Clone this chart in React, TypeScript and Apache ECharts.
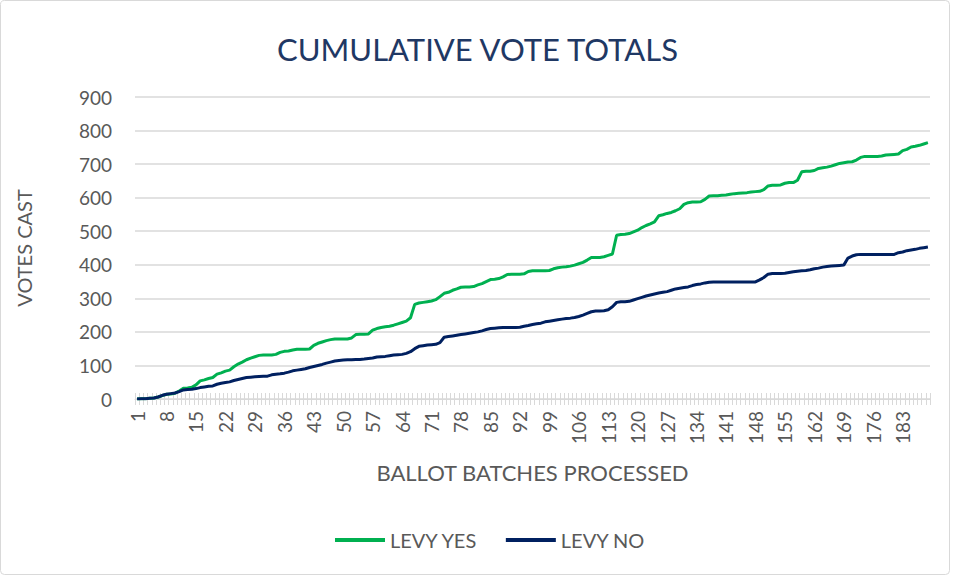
import React, { useEffect, useRef } from "react";
import * as echarts from "echarts";

const batches: string[] = Array.from({ length: 189 }, (_, i) => String(i + 1));

const levyYes: number[] = [
  0, 1, 1, 2, 3, 6, 10, 14, 15, 17,
  24, 32, 33, 35, 42, 54, 57, 61, 64, 74,
  78, 83, 86, 96, 104, 110, 117, 122, 126, 130,
  131, 131, 131, 133, 139, 142, 143, 146, 148, 148,
  148, 149, 160, 166, 170, 174, 177, 179, 179, 179,
  179, 182, 192, 193, 193, 194, 205, 210, 213, 215,
  217, 220, 224, 228, 232, 242, 282, 286, 288, 290,
  292, 296, 305, 315, 318, 324, 328, 333, 334, 334,
  335, 340, 344, 350, 356, 357, 359, 364, 371, 372,
  372, 372, 373, 380, 382, 382, 382, 382, 383, 388,
  391, 393, 394, 396, 399, 403, 407, 414, 422, 422,
  422, 424, 428, 432, 488, 490, 491, 493, 498, 503,
  511, 517, 522, 528, 546, 549, 553, 556, 561, 567,
  580, 585, 587, 587, 588, 595, 605, 606, 606, 607,
  608, 610, 612, 613, 614, 615, 617, 618, 619, 624,
  635, 637, 637, 638, 643, 645, 645, 652, 677, 679,
  679, 681, 687, 689, 691, 694, 698, 702, 704, 706,
  707, 712, 720, 723, 723, 723, 723, 724, 727, 728,
  729, 730, 740, 744, 751, 753, 756, 760, 764,
];

const levyNo: number[] = [
  0, 1, 1, 2, 3, 6, 11, 14, 16, 18,
  22, 27, 28, 29, 31, 34, 36, 38, 39, 44,
  47, 49, 51, 55, 58, 61, 64, 65, 66, 67,
  68, 68, 72, 74, 75, 77, 80, 84, 86, 88,
  90, 94, 97, 100, 103, 107, 110, 113, 115, 116,
  117, 117, 118, 118, 119, 121, 122, 125, 126, 127,
  129, 131, 132, 133, 136, 141, 150, 157, 159, 161,
  162, 163, 168, 184, 186, 188, 190, 192, 194, 196,
  198, 200, 203, 207, 210, 211, 212, 213, 213, 213,
  213, 214, 217, 219, 222, 224, 226, 230, 232, 234,
  236, 238, 240, 241, 243, 246, 250, 255, 260, 262,
  262, 263, 266, 275, 288, 290, 290, 291, 295, 299,
  303, 307, 310, 313, 316, 318, 320, 324, 328, 330,
  332, 334, 338, 341, 343, 346, 348, 349, 349, 349,
  349, 349, 349, 349, 349, 349, 349, 349, 355, 362,
  372, 374, 374, 374, 375, 377, 379, 381, 382, 383,
  385, 388, 390, 393, 395, 396, 397, 398, 399, 420,
  426, 430, 431, 431, 431, 431, 431, 431, 431, 431,
  431, 436, 438, 442, 444, 446, 449, 451, 453,
];

const FONT = "Lato, 'Open Sans', sans-serif";
const GRAY = "#595959";

export default function App() {
  const ref = useRef<HTMLDivElement>(null);
  useEffect(() => {
    if (!ref.current) return;
    const chart = echarts.init(ref.current, null, { renderer: "svg" });
    chart.setOption({
      animation: false,
      backgroundColor: "#ffffff",
      textStyle: { fontFamily: FONT },
      title: {
        text: "CUMULATIVE VOTE TOTALS",
        left: "center",
        top: 28,
        textStyle: { color: "#1F3864", fontSize: 31, fontWeight: "normal", fontFamily: FONT },
      },
      graphic: [
        {
          type: "rect",
          shape: { x: 0.5, y: 0.5, width: 949, height: 574, r: 4 },
          style: { fill: "none", stroke: "#D9D9D9", lineWidth: 1 },
          silent: true,
        },
      ],
      legend: {
        bottom: 22,
        left: 330,
        itemWidth: 50,
        itemHeight: 4,
        itemGap: 28,
        icon: "rect",
        textStyle: { color: GRAY, fontSize: 20, fontFamily: FONT },
        data: ["LEVY YES", "LEVY NO"],
      },
      grid: { left: 135, right: 25, top: 97, bottom: 178, containLabel: false },
      xAxis: [
        {
          type: "category",
          data: batches,
          boundaryGap: true,
          name: "BALLOT BATCHES PROCESSED",
          nameLocation: "middle",
          nameGap: 62,
          nameTextStyle: { color: GRAY, fontSize: 22, fontFamily: FONT },
          axisLine: { lineStyle: { color: "#D9D9D9", width: 1 } },
          axisTick: { show: true, interval: 0, length: 6, lineStyle: { color: "#D9D9D9" } },
          axisLabel: { interval: 6, rotate: 90, color: GRAY, fontSize: 19, margin: 12, fontFamily: FONT },
        },
        {
          type: "category",
          data: batches,
          position: "bottom",
          boundaryGap: true,
          axisLine: { show: false },
          axisTick: { show: true, inside: true, interval: 0, length: 6, lineStyle: { color: "#D9D9D9" } },
          axisLabel: { show: false },
        },
      ],
      yAxis: {
        type: "value",
        min: 0,
        max: 900,
        interval: 100,
        name: "VOTES CAST",
        nameLocation: "middle",
        nameGap: 101,
        nameTextStyle: { color: GRAY, fontSize: 20, fontFamily: FONT },
        axisLine: { show: false },
        axisTick: { show: false },
        axisLabel: { color: GRAY, fontSize: 19, margin: 23, fontFamily: FONT },
        splitLine: { lineStyle: { color: "#D9D9D9", width: 1.5 } },
      },
      series: [
        {
          name: "LEVY YES",
          type: "line",
          data: levyYes,
          symbol: "none",
          lineStyle: { color: "#00B050", width: 3 },
          itemStyle: { color: "#00B050" },
          z: 3,
        },
        {
          name: "LEVY NO",
          type: "line",
          data: levyNo,
          symbol: "none",
          lineStyle: { color: "#002060", width: 3 },
          itemStyle: { color: "#002060" },
          z: 4,
        },
      ],
    });
    return () => chart.dispose();
  }, []);
  return (
    <div
      ref={ref}
      style={{ position: "fixed", left: 0, top: 0, width: 955, height: 577, background: "#fff" }}
    />
  );
}
